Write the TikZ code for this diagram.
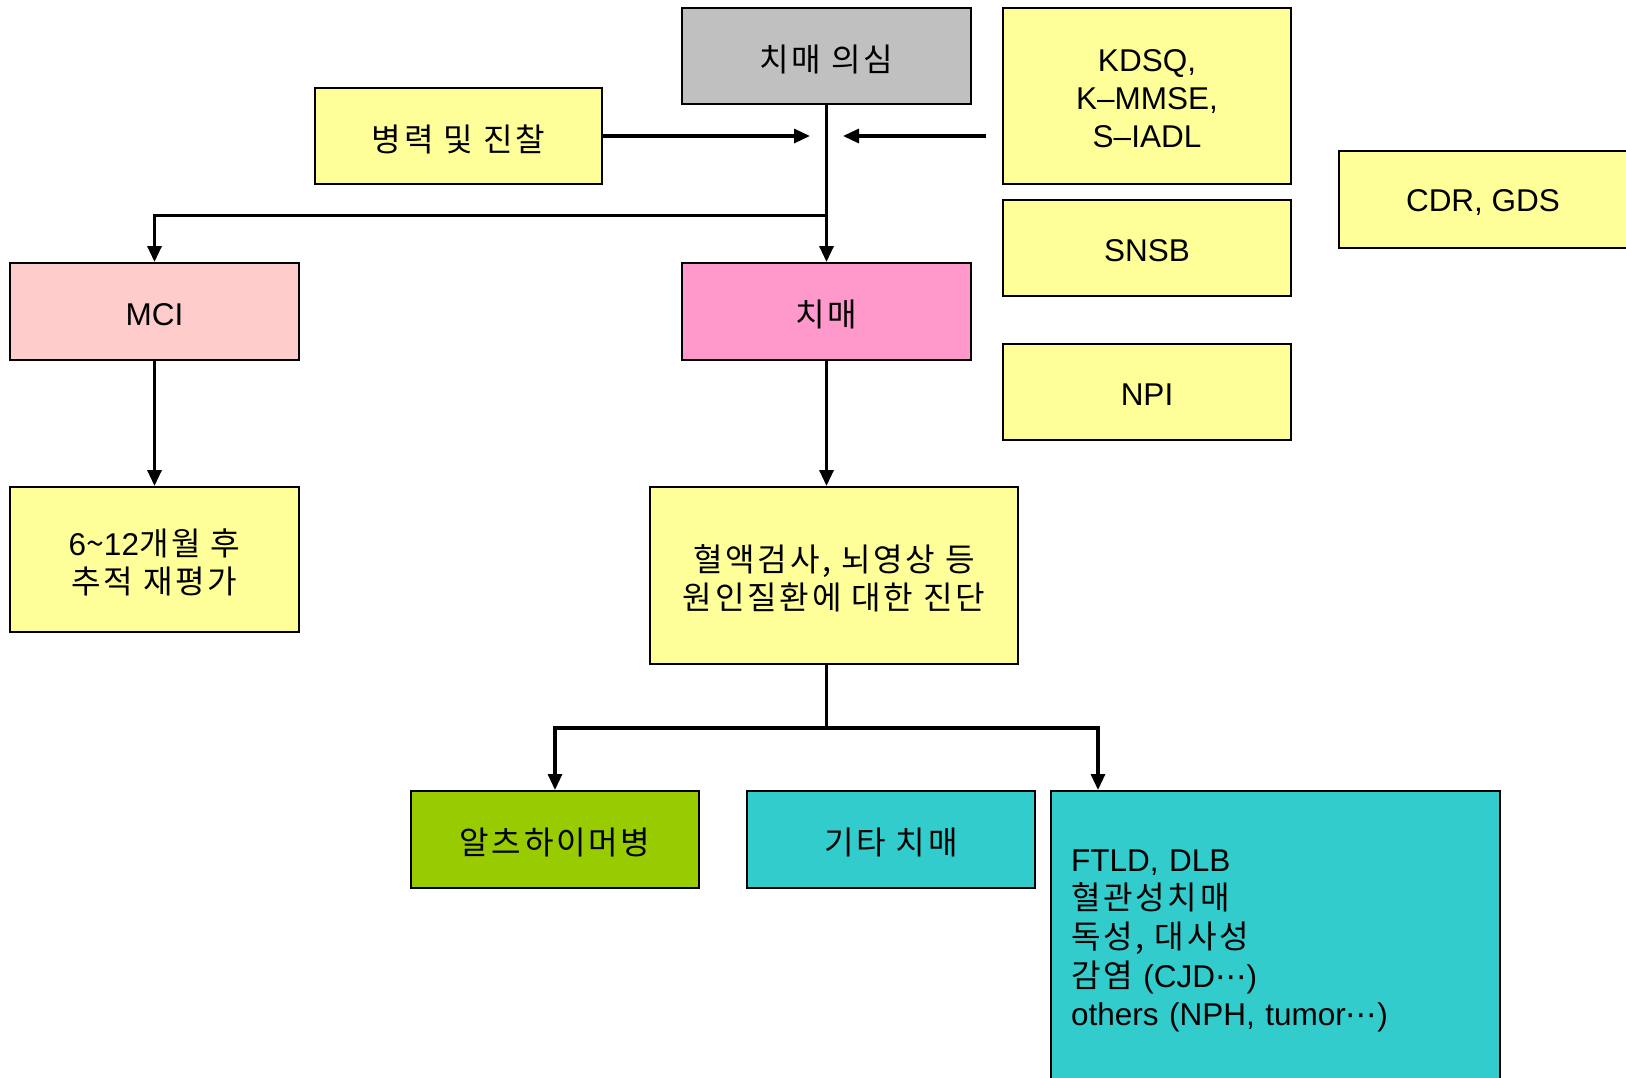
\documentclass[tikz,border=0pt]{standalone}
\usepackage{fontspec}
\setmainfont{Liberation Sans}
\newfontfamily\kr{Noto Sans CJK KR}[Scale=1.02, LetterSpace=8.5]
\newfontfamily\symf{DejaVu Sans}
\usetikzlibrary{arrows.meta}
\definecolor{boxgray}{HTML}{C0C0C0}
\definecolor{boxyellow}{HTML}{FFFF99}
\definecolor{boxrose}{HTML}{FFCCCC}
\definecolor{boxpink}{HTML}{FF99CC}
\definecolor{boxgreen}{HTML}{99CC00}
\definecolor{boxteal}{HTML}{33CCCC}
\begin{document}
\begin{tikzpicture}[x=1pt,y=-1pt,
  box/.style={draw=black, line width=2pt, inner sep=0pt},
  boxtext/.style={inner sep=0pt, align=center, yshift=-3pt,
    font=\fontsize{31.5}{38}\selectfont},
  link/.style={line width=3.2pt, -{Triangle[length=16pt,width=14pt]}},
  plain/.style={line width=3.2pt}]
\useasboundingbox (0,0) rectangle (1626,1077);
\clip (0,0) rectangle (1626,1077);

% top row
\node[box, fill=boxgray, minimum width=289pt, minimum height=96pt,
  label={[boxtext]center:{\kr 치매 의심}}] (suspect) at (826.5,56) {};
\node[box, fill=boxyellow, minimum width=287pt, minimum height=96pt,
  label={[boxtext]center:{\kr 병력 및 진찰}}] (history) at (458.5,136) {};
\node[box, fill=boxyellow, minimum width=288pt, minimum height=176pt,
  label={[boxtext]center:{KDSQ,\\K--MMSE,\\S--IADL}}] (kdsq) at (1147,96) {};
\node[box, fill=boxyellow, minimum width=288pt, minimum height=96pt,
  label={[boxtext]center:SNSB}] (snsb) at (1147,248) {};
\node[box, fill=boxyellow, minimum width=288pt, minimum height=96pt,
  label={[boxtext]center:NPI}] (npi) at (1147,392) {};
\node[box, fill=boxyellow, minimum width=288pt, minimum height=97pt,
  label={[boxtext]center:{CDR, GDS}}] (cdr) at (1483,199.5) {};

% second row
\node[box, fill=boxrose, minimum width=289pt, minimum height=97pt,
  label={[boxtext]center:MCI}] (mci) at (154.5,311.5) {};
\node[box, fill=boxpink, minimum width=289pt, minimum height=97pt,
  label={[boxtext]center:{\kr 치매}}] (dementia) at (826.5,311.5) {};

% third row
\node[box, fill=boxyellow, minimum width=289pt, minimum height=145pt,
  label={[boxtext]center:{6{\kr\textasciitilde}12{\kr 개월 후}\\{\kr 추적 재평가}}}]
  (followup) at (154.5,559.5) {};
\node[box, fill=boxyellow, minimum width=368pt, minimum height=177pt,
  label={[boxtext]center:{{\kr 혈액검사, 뇌영상 등}\\{\kr 원인질환에 대한 진단}}}]
  (workup) at (834,575.5) {};

% bottom row
\node[box, fill=boxgreen, minimum width=288pt, minimum height=97pt,
  label={[boxtext]center:{\kr 알츠하이머병}}] (alz) at (555,839.5) {};
\node[box, fill=boxteal, minimum width=288pt, minimum height=97pt,
  label={[boxtext]center:{\kr 기타 치매}}] (other) at (891,839.5) {};
\node[box, fill=boxteal, minimum width=449pt, minimum height=300pt, align=left,
  text width=409pt, font=\fontsize{31.5}{38.6}\selectfont] (causes) at (1275.5,941)
  {FTLD, DLB\\
   {\kr 혈관성치매}\\
   {\kr 독성, 대사성}\\
   {\kr 감염} (CJD{\symf ⋯})\\
   others (NPH, tumor{\symf ⋯})};

% connectors
\coordinate (hin) at (810,136);
\coordinate (kout) at (986,136);
\coordinate (kin) at (843,136);
\coordinate (split) at (826.5,215.7);
\coordinate (fork) at (826.5,728);
\coordinate (rdrop) at (1098,728);

\draw[link] (suspect.south) -- (dementia.north);
\draw[link] (history.east) -- (hin);
\draw[link] (kout) -- (kin);
\draw[link] (split) -| (mci.north);
\draw[link] (mci.south) -- (followup.north);
\draw[link] (dementia.south) -- (dementia.south |- workup.north);
\draw[plain] (workup.south -| dementia.south) -- (fork);
\draw[link] (fork) -| (alz.north);
\draw[link] (fork) -- (rdrop) -- (rdrop |- causes.north);
\end{tikzpicture}
\end{document}
